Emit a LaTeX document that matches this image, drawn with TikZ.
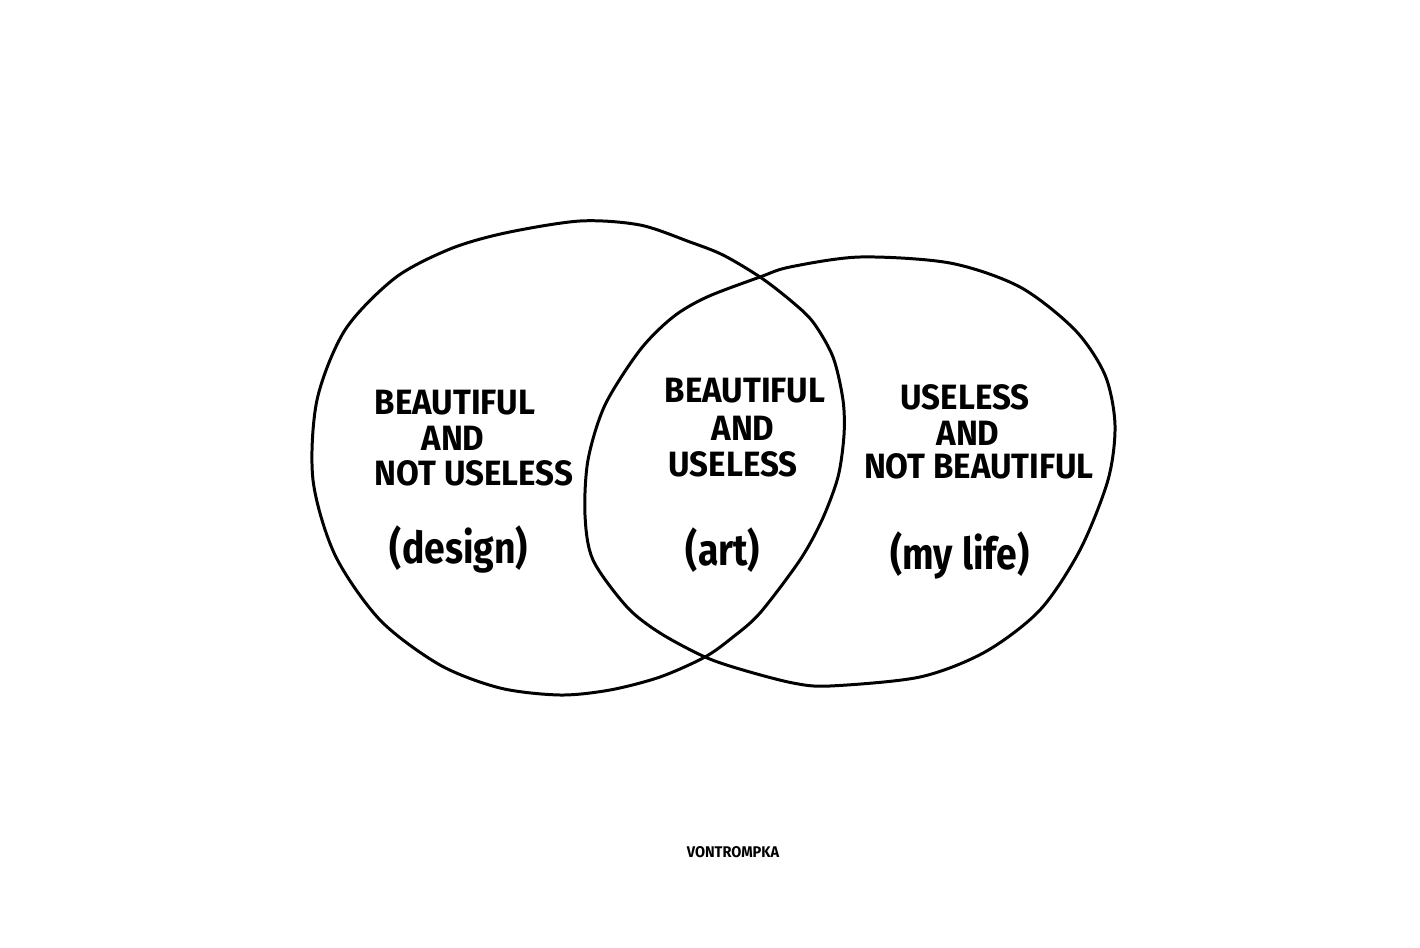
\documentclass[tikz,border=0pt]{standalone}
\usepackage{fontspec}
\newfontfamily\handfont[FakeStretch=0.94]{Fira Sans}
\newfontfamily\notefont[FakeStretch=0.85]{Fira Sans}
\begin{document}
\begin{tikzpicture}[x=0.01cm,y=-0.01cm,
    ring/.style={line width=0.85pt, line join=round},
    caps/.style={font=\handfont\bfseries\fontsize{10}{12}\selectfont, inner sep=0pt},
    paren/.style={font=\notefont\bfseries\fontsize{12.5}{15}\selectfont, inner sep=0pt},
    sign/.style={font=\handfont\bfseries\fontsize{4.4}{5}\selectfont, inner sep=0pt}]
    \useasboundingbox[fill=white] (0,0) rectangle (1420,948);
    \draw[ring] plot[smooth cycle, tension=0.5] coordinates {
        (580,221) (640,225) (690,242) (723,255) (760,277) (790,300)
        (813,322) (833,357) (843,400) (844,435) (838,477) (822,520)
        (800,560) (760,613) (733,637) (705,657) (660,677) (610,690)
        (560,695) (500,688) (440,665) (380,620) (335,555) (313,480)
        (317,400) (345,330) (395,278) (450,249) (505,233)};
    \draw[ring] plot[smooth cycle, tension=0.5] coordinates {
        (760,277) (790,267) (860,257) (950,263) (1020,287) (1075,330)
        (1105,375) (1115,425) (1108,480) (1080,550) (1040,610) (985,652)
        (920,677) (830,686) (793,683) (743,670) (705,657) (660,633)
        (627,607) (593,560) (585,515) (588,460) (605,405) (640,350)
        (673,317) (707,297)};
    \node[caps] (designA) at (455,403) {BEAUTIFUL};
    \node[caps] (designB) at (453,438) {AND};
    \node[caps] (designC) at (474,473) {NOT USELESS};
    \node[paren] (design) at (459,549) {(design)};
    \node[caps] (artA) at (745,391) {BEAUTIFUL};
    \node[caps] (artB) at (743,428) {AND};
    \node[caps] (artC) at (733,464) {USELESS};
    \node[paren] (art) at (723,550) {(art)};
    \node[caps] (lifeA) at (965,397) {USELESS};
    \node[caps] (lifeB) at (968,433) {AND};
    \node[caps] (lifeC) at (979,466) {NOT BEAUTIFUL};
    \node[paren] (life) at (960,555) {(my life)};
    \node[sign] (author) at (733,852) {VONTROMPKA};
\end{tikzpicture}
\end{document}
